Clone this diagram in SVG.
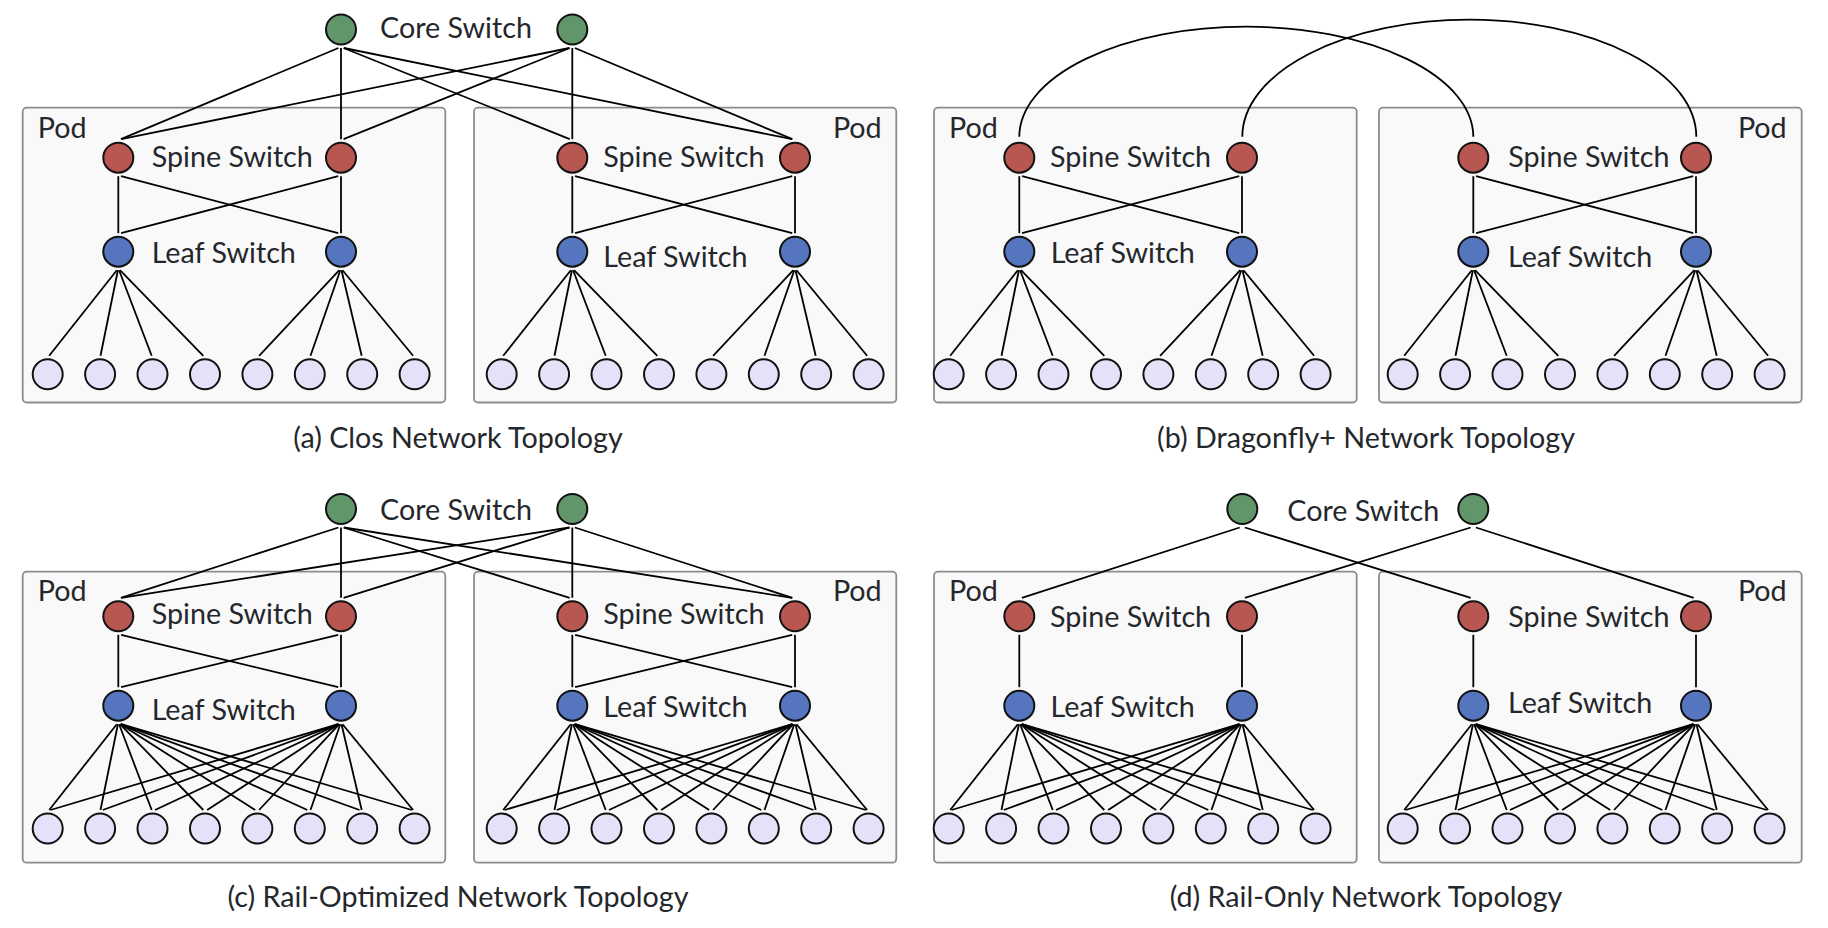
<svg xmlns="http://www.w3.org/2000/svg" xmlns:xlink="http://www.w3.org/1999/xlink" width="1828" height="928" viewBox="0 0 1828 928">
<style>
.bg{fill:#ffffff}
.pod{fill:#f9f9f9;stroke:#8c8c8c;stroke-width:1.8}
.core{fill:#60966a;stroke:#111;stroke-width:2}
.spine{fill:#b85652;stroke:#111;stroke-width:2}
.leaf{fill:#5675bf;stroke:#111;stroke-width:2}
.host{fill:#e5e1f8;stroke:#111;stroke-width:2}
.edge{stroke:#000;stroke-width:1.8;fill:none}
text{font-family:Lato,"Liberation Sans",sans-serif;font-size:28.7px;fill:#24272b}
.end{text-anchor:end}
.mid{text-anchor:middle}
</style>
<defs>
<g id="edges-ab">
<line x1="118.3" y1="176.2" x2="118.3" y2="233.2"/>
<line x1="121.1" y1="176.2" x2="338.2" y2="233.2"/>
<line x1="338.2" y1="176.2" x2="121.1" y2="233.2"/>
<line x1="341" y1="176.2" x2="341" y2="233.2"/>
<line x1="116.8" y1="270.2" x2="49.2" y2="355.8"/>
<line x1="117.9" y1="270.2" x2="100.5" y2="355.8"/>
<line x1="119.1" y1="270.2" x2="151.7" y2="355.8"/>
<line x1="120" y1="270.2" x2="203.3" y2="355.8"/>
<line x1="339.3" y1="270.2" x2="259.1" y2="355.8"/>
<line x1="340.3" y1="270.2" x2="310.5" y2="355.8"/>
<line x1="341.5" y1="270.2" x2="361.7" y2="355.8"/>
<line x1="342.5" y1="270.2" x2="413.1" y2="355.8"/>
</g>
<g id="leafhost-all">
<line x1="116.8" y1="724.2" x2="49.2" y2="810"/>
<line x1="117.9" y1="724.2" x2="100.5" y2="810"/>
<line x1="119.1" y1="724.2" x2="151.7" y2="810"/>
<line x1="120" y1="724.2" x2="203.3" y2="810"/>
<line x1="120.5" y1="724.2" x2="255.2" y2="810"/>
<line x1="120.8" y1="724.2" x2="307.3" y2="810"/>
<line x1="121" y1="724.2" x2="359.5" y2="810"/>
<line x1="121.1" y1="724.2" x2="411.8" y2="810"/>
<line x1="338.2" y1="724.2" x2="50.5" y2="810"/>
<line x1="338.3" y1="724.2" x2="102.8" y2="810"/>
<line x1="338.5" y1="724.2" x2="155" y2="810"/>
<line x1="338.8" y1="724.2" x2="207.2" y2="810"/>
<line x1="339.3" y1="724.2" x2="259.1" y2="810"/>
<line x1="340.3" y1="724.2" x2="310.5" y2="810"/>
<line x1="341.5" y1="724.2" x2="361.7" y2="810"/>
<line x1="342.5" y1="724.2" x2="413.1" y2="810"/>
</g>
<g id="edges-c">
<line x1="118.3" y1="634.8" x2="118.3" y2="687.2"/>
<line x1="121.1" y1="634.8" x2="338.2" y2="687.2"/>
<line x1="338.2" y1="634.8" x2="121.1" y2="687.2"/>
<line x1="341" y1="634.8" x2="341" y2="687.2"/>
<use href="#leafhost-all"/>
</g>
<g id="edges-d">
<line x1="118.3" y1="634.8" x2="118.3" y2="687.2"/>
<line x1="341" y1="634.8" x2="341" y2="687.2"/>
<use href="#leafhost-all"/>
</g>
</defs>
<rect class="bg" x="0" y="0" width="1828" height="928"/>

<!-- panel (a) pods -->
<g id="a-pod1">
<rect class="pod" x="22.7" y="107.7" width="422.6" height="294.8" rx="4"/>
<text x="37.7" y="137.7">Pod</text>
<g id="a-pod1-spine1"><circle class="spine" cx="118.3" cy="157.7" r="15"/></g>
<g id="a-pod1-spine2"><circle class="spine" cx="341" cy="157.7" r="15"/></g>
<text x="151.7" y="166.7">Spine Switch</text>
<g id="a-pod1-leaf1"><circle class="leaf" cx="118.3" cy="251.7" r="15"/></g>
<g id="a-pod1-leaf2"><circle class="leaf" cx="341" cy="251.7" r="15"/></g>
<text x="151.7" y="262.7">Leaf Switch</text>
<g id="a-pod1-h1"><circle class="host" cx="47.7" cy="374.3" r="15"/></g>
<g id="a-pod1-h2"><circle class="host" cx="100.1" cy="374.3" r="15"/></g>
<g id="a-pod1-h3"><circle class="host" cx="152.5" cy="374.3" r="15"/></g>
<g id="a-pod1-h4"><circle class="host" cx="205" cy="374.3" r="15"/></g>
<g id="a-pod1-h5"><circle class="host" cx="257.4" cy="374.3" r="15"/></g>
<g id="a-pod1-h6"><circle class="host" cx="309.8" cy="374.3" r="15"/></g>
<g id="a-pod1-h7"><circle class="host" cx="362.2" cy="374.3" r="15"/></g>
<g id="a-pod1-h8"><circle class="host" cx="414.6" cy="374.3" r="15"/></g>
</g>
<g id="a-pod2" transform="translate(454 0)">
<rect class="pod" x="20" y="107.7" width="422.3" height="294.8" rx="4"/>
<text class="end" x="427.7" y="137.7">Pod</text>
<g id="a-pod2-spine1"><circle class="spine" cx="118.3" cy="157.7" r="15"/></g>
<g id="a-pod2-spine2"><circle class="spine" cx="341" cy="157.7" r="15"/></g>
<text x="149.3" y="166.7">Spine Switch</text>
<g id="a-pod2-leaf1"><circle class="leaf" cx="118.3" cy="251.7" r="15"/></g>
<g id="a-pod2-leaf2"><circle class="leaf" cx="341" cy="251.7" r="15"/></g>
<text x="149.3" y="266.5">Leaf Switch</text>
<g id="a-pod2-h1"><circle class="host" cx="47.7" cy="374.3" r="15"/></g>
<g id="a-pod2-h2"><circle class="host" cx="100.1" cy="374.3" r="15"/></g>
<g id="a-pod2-h3"><circle class="host" cx="152.5" cy="374.3" r="15"/></g>
<g id="a-pod2-h4"><circle class="host" cx="205" cy="374.3" r="15"/></g>
<g id="a-pod2-h5"><circle class="host" cx="257.4" cy="374.3" r="15"/></g>
<g id="a-pod2-h6"><circle class="host" cx="309.8" cy="374.3" r="15"/></g>
<g id="a-pod2-h7"><circle class="host" cx="362.2" cy="374.3" r="15"/></g>
<g id="a-pod2-h8"><circle class="host" cx="414.6" cy="374.3" r="15"/></g>
</g>

<!-- panel (b) pods -->
<g id="b-pod1" transform="translate(901 0)">
<rect class="pod" x="33" y="107.7" width="422.7" height="294.8" rx="4"/>
<text x="48" y="137.7">Pod</text>
<g id="b-pod1-spine1"><circle class="spine" cx="118.3" cy="157.7" r="15"/></g>
<g id="b-pod1-spine2"><circle class="spine" cx="341" cy="157.7" r="15"/></g>
<text x="149" y="166.7">Spine Switch</text>
<g id="b-pod1-leaf1"><circle class="leaf" cx="118.3" cy="251.7" r="15"/></g>
<g id="b-pod1-leaf2"><circle class="leaf" cx="341" cy="251.7" r="15"/></g>
<text x="149.7" y="263">Leaf Switch</text>
<g id="b-pod1-h1"><circle class="host" cx="47.7" cy="374.3" r="15"/></g>
<g id="b-pod1-h2"><circle class="host" cx="100.1" cy="374.3" r="15"/></g>
<g id="b-pod1-h3"><circle class="host" cx="152.5" cy="374.3" r="15"/></g>
<g id="b-pod1-h4"><circle class="host" cx="205" cy="374.3" r="15"/></g>
<g id="b-pod1-h5"><circle class="host" cx="257.4" cy="374.3" r="15"/></g>
<g id="b-pod1-h6"><circle class="host" cx="309.8" cy="374.3" r="15"/></g>
<g id="b-pod1-h7"><circle class="host" cx="362.2" cy="374.3" r="15"/></g>
<g id="b-pod1-h8"><circle class="host" cx="414.6" cy="374.3" r="15"/></g>
</g>
<g id="b-pod2" transform="translate(1355 0)">
<rect class="pod" x="24" y="107.7" width="422.7" height="294.8" rx="4"/>
<text class="end" x="431.7" y="137.7">Pod</text>
<g id="b-pod2-spine1"><circle class="spine" cx="118.3" cy="157.7" r="15"/></g>
<g id="b-pod2-spine2"><circle class="spine" cx="341" cy="157.7" r="15"/></g>
<text x="153.3" y="166.7">Spine Switch</text>
<g id="b-pod2-leaf1"><circle class="leaf" cx="118.3" cy="251.7" r="15"/></g>
<g id="b-pod2-leaf2"><circle class="leaf" cx="341" cy="251.7" r="15"/></g>
<text x="153" y="266.5">Leaf Switch</text>
<g id="b-pod2-h1"><circle class="host" cx="47.7" cy="374.3" r="15"/></g>
<g id="b-pod2-h2"><circle class="host" cx="100.1" cy="374.3" r="15"/></g>
<g id="b-pod2-h3"><circle class="host" cx="152.5" cy="374.3" r="15"/></g>
<g id="b-pod2-h4"><circle class="host" cx="205" cy="374.3" r="15"/></g>
<g id="b-pod2-h5"><circle class="host" cx="257.4" cy="374.3" r="15"/></g>
<g id="b-pod2-h6"><circle class="host" cx="309.8" cy="374.3" r="15"/></g>
<g id="b-pod2-h7"><circle class="host" cx="362.2" cy="374.3" r="15"/></g>
<g id="b-pod2-h8"><circle class="host" cx="414.6" cy="374.3" r="15"/></g>
</g>

<!-- panel (c) pods -->
<g id="c-pod1">
<rect class="pod" x="22.7" y="571.7" width="422.6" height="291" rx="4"/>
<text x="37.7" y="600.7">Pod</text>
<g id="c-pod1-spine1"><circle class="spine" cx="118.3" cy="616.3" r="15"/></g>
<g id="c-pod1-spine2"><circle class="spine" cx="341" cy="616.3" r="15"/></g>
<text x="151.7" y="624">Spine Switch</text>
<g id="c-pod1-leaf1"><circle class="leaf" cx="118.3" cy="705.7" r="15"/></g>
<g id="c-pod1-leaf2"><circle class="leaf" cx="341" cy="705.7" r="15"/></g>
<text x="151.7" y="720">Leaf Switch</text>
<g id="c-pod1-h1"><circle class="host" cx="47.7" cy="828.5" r="15"/></g>
<g id="c-pod1-h2"><circle class="host" cx="100.1" cy="828.5" r="15"/></g>
<g id="c-pod1-h3"><circle class="host" cx="152.5" cy="828.5" r="15"/></g>
<g id="c-pod1-h4"><circle class="host" cx="205" cy="828.5" r="15"/></g>
<g id="c-pod1-h5"><circle class="host" cx="257.4" cy="828.5" r="15"/></g>
<g id="c-pod1-h6"><circle class="host" cx="309.8" cy="828.5" r="15"/></g>
<g id="c-pod1-h7"><circle class="host" cx="362.2" cy="828.5" r="15"/></g>
<g id="c-pod1-h8"><circle class="host" cx="414.6" cy="828.5" r="15"/></g>
</g>
<g id="c-pod2" transform="translate(454 0)">
<rect class="pod" x="20" y="571.7" width="422.3" height="291" rx="4"/>
<text class="end" x="427.7" y="600.7">Pod</text>
<g id="c-pod2-spine1"><circle class="spine" cx="118.3" cy="616.3" r="15"/></g>
<g id="c-pod2-spine2"><circle class="spine" cx="341" cy="616.3" r="15"/></g>
<text x="149.3" y="624">Spine Switch</text>
<g id="c-pod2-leaf1"><circle class="leaf" cx="118.3" cy="705.7" r="15"/></g>
<g id="c-pod2-leaf2"><circle class="leaf" cx="341" cy="705.7" r="15"/></g>
<text x="149.3" y="716.5">Leaf Switch</text>
<g id="c-pod2-h1"><circle class="host" cx="47.7" cy="828.5" r="15"/></g>
<g id="c-pod2-h2"><circle class="host" cx="100.1" cy="828.5" r="15"/></g>
<g id="c-pod2-h3"><circle class="host" cx="152.5" cy="828.5" r="15"/></g>
<g id="c-pod2-h4"><circle class="host" cx="205" cy="828.5" r="15"/></g>
<g id="c-pod2-h5"><circle class="host" cx="257.4" cy="828.5" r="15"/></g>
<g id="c-pod2-h6"><circle class="host" cx="309.8" cy="828.5" r="15"/></g>
<g id="c-pod2-h7"><circle class="host" cx="362.2" cy="828.5" r="15"/></g>
<g id="c-pod2-h8"><circle class="host" cx="414.6" cy="828.5" r="15"/></g>
</g>

<!-- panel (d) pods -->
<g id="d-pod1" transform="translate(901 0)">
<rect class="pod" x="33" y="571.7" width="422.7" height="291" rx="4"/>
<text x="48" y="601">Pod</text>
<g id="d-pod1-spine1"><circle class="spine" cx="118.3" cy="616.3" r="15"/></g>
<g id="d-pod1-spine2"><circle class="spine" cx="341" cy="616.3" r="15"/></g>
<text x="149" y="627.3">Spine Switch</text>
<g id="d-pod1-leaf1"><circle class="leaf" cx="118.3" cy="705.7" r="15"/></g>
<g id="d-pod1-leaf2"><circle class="leaf" cx="341" cy="705.7" r="15"/></g>
<text x="149.5" y="716.5">Leaf Switch</text>
<g id="d-pod1-h1"><circle class="host" cx="47.7" cy="828.5" r="15"/></g>
<g id="d-pod1-h2"><circle class="host" cx="100.1" cy="828.5" r="15"/></g>
<g id="d-pod1-h3"><circle class="host" cx="152.5" cy="828.5" r="15"/></g>
<g id="d-pod1-h4"><circle class="host" cx="205" cy="828.5" r="15"/></g>
<g id="d-pod1-h5"><circle class="host" cx="257.4" cy="828.5" r="15"/></g>
<g id="d-pod1-h6"><circle class="host" cx="309.8" cy="828.5" r="15"/></g>
<g id="d-pod1-h7"><circle class="host" cx="362.2" cy="828.5" r="15"/></g>
<g id="d-pod1-h8"><circle class="host" cx="414.6" cy="828.5" r="15"/></g>
</g>
<g id="d-pod2" transform="translate(1355 0)">
<rect class="pod" x="24" y="571.7" width="422.7" height="291" rx="4"/>
<text class="end" x="431.7" y="601">Pod</text>
<g id="d-pod2-spine1"><circle class="spine" cx="118.3" cy="616.3" r="15"/></g>
<g id="d-pod2-spine2"><circle class="spine" cx="341" cy="616.3" r="15"/></g>
<text x="153.3" y="627.3">Spine Switch</text>
<g id="d-pod2-leaf1"><circle class="leaf" cx="118.3" cy="705.7" r="15"/></g>
<g id="d-pod2-leaf2"><circle class="leaf" cx="341" cy="705.7" r="15"/></g>
<text x="153" y="713">Leaf Switch</text>
<g id="d-pod2-h1"><circle class="host" cx="47.7" cy="828.5" r="15"/></g>
<g id="d-pod2-h2"><circle class="host" cx="100.1" cy="828.5" r="15"/></g>
<g id="d-pod2-h3"><circle class="host" cx="152.5" cy="828.5" r="15"/></g>
<g id="d-pod2-h4"><circle class="host" cx="205" cy="828.5" r="15"/></g>
<g id="d-pod2-h5"><circle class="host" cx="257.4" cy="828.5" r="15"/></g>
<g id="d-pod2-h6"><circle class="host" cx="309.8" cy="828.5" r="15"/></g>
<g id="d-pod2-h7"><circle class="host" cx="362.2" cy="828.5" r="15"/></g>
<g id="d-pod2-h8"><circle class="host" cx="414.6" cy="828.5" r="15"/></g>
</g>

<!-- connectors -->
<g id="connectors" class="edge">
<use href="#edges-ab"/>
<use href="#edges-ab" x="454"/>
<use href="#edges-ab" x="901"/>
<use href="#edges-ab" x="1355"/>
<use href="#edges-c"/>
<use href="#edges-c" x="454"/>
<use href="#edges-d" x="901"/>
<use href="#edges-d" x="1355"/>
<line x1="338.4" y1="48" x2="120.9" y2="139.2"/>
<line x1="341" y1="48" x2="341" y2="139.2"/>
<line x1="343.6" y1="48" x2="569.7" y2="139.2"/>
<line x1="343.9" y1="48" x2="792.1" y2="139.2"/>
<line x1="569.4" y1="48" x2="121.2" y2="139.2"/>
<line x1="569.7" y1="48" x2="343.6" y2="139.2"/>
<line x1="572.3" y1="48" x2="572.3" y2="139.2"/>
<line x1="574.9" y1="48" x2="792.4" y2="139.2"/>
<path d="M1019.3 136.7 A227 110 0 0 1 1473.3 136.7"/>
<path d="M1242.3 136.7 A227 117 0 0 1 1696.3 136.7"/>
<line x1="338.4" y1="527.5" x2="120.9" y2="597.8"/>
<line x1="341" y1="527.5" x2="341" y2="597.8"/>
<line x1="343.6" y1="527.5" x2="569.7" y2="597.8"/>
<line x1="343.9" y1="527.5" x2="792.1" y2="597.8"/>
<line x1="569.4" y1="527.5" x2="121.2" y2="597.8"/>
<line x1="569.7" y1="527.5" x2="343.6" y2="597.8"/>
<line x1="572.3" y1="527.5" x2="572.3" y2="597.8"/>
<line x1="574.9" y1="527.5" x2="792.4" y2="597.8"/>
<line x1="1239.7" y1="527.5" x2="1021.9" y2="597.8"/>
<line x1="1244.9" y1="527.5" x2="1470.7" y2="597.8"/>
<line x1="1470.7" y1="527.5" x2="1244.9" y2="597.8"/>
<line x1="1475.9" y1="527.5" x2="1693.7" y2="597.8"/>
</g>

<!-- core switches -->
<g id="a-core1"><circle class="core" cx="341" cy="29.5" r="15"/></g>
<g id="a-core2"><circle class="core" cx="572.3" cy="29.5" r="15"/></g>
<text x="380" y="38.3">Core Switch</text>
<g id="c-core1"><circle class="core" cx="341" cy="509" r="15"/></g>
<g id="c-core2"><circle class="core" cx="572.3" cy="509" r="15"/></g>
<text x="380" y="520">Core Switch</text>
<g id="d-core1"><circle class="core" cx="1242.3" cy="509" r="15"/></g>
<g id="d-core2"><circle class="core" cx="1473.3" cy="509" r="15"/></g>
<text x="1287.3" y="520.7">Core Switch</text>

<!-- captions -->
<text class="mid" x="458" y="448">(a) Clos Network Topology</text>
<text class="mid" x="1366" y="448">(b) Dragonfly+ Network Topology</text>
<text class="mid" x="458" y="907">(c) Rail-Optimized Network Topology</text>
<text class="mid" x="1366" y="907">(d) Rail-Only Network Topology</text>
</svg>
